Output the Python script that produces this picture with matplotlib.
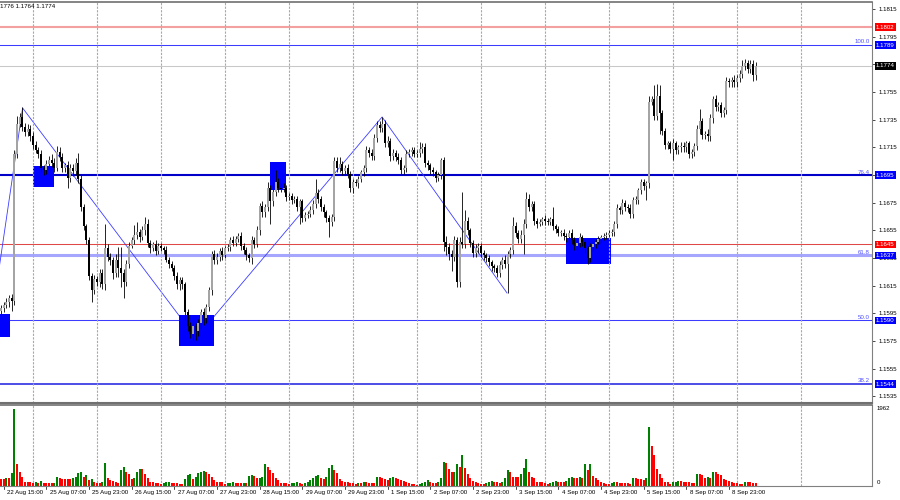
import matplotlib
matplotlib.use('Agg')
import matplotlib.pyplot as plt
import matplotlib.transforms as mtransforms
from matplotlib.patches import Rectangle
import numpy as np

plt.rcParams['font.family'] = ['Liberation Sans', 'DejaVu Sans']

# ---- EURUSD H1, 22 Aug 13:00 .. 9 Sep 09:00 (server time) ----
first_open = 1.1597
close = [
    1.1599, 1.1601, 1.1603, 1.1606, 1.1604, 1.1710, 1.1732, 1.1737, 1.1730, 1.1726,
    1.1728, 1.1723, 1.1717, 1.1713, 1.1710, 1.1700, 1.1699, 1.1703, 1.1706, 1.1704,
    1.1700, 1.1712, 1.1708, 1.1700, 1.1702, 1.1693, 1.1700, 1.1698, 1.1704, 1.1692,
    1.1672, 1.1658, 1.1648, 1.1622, 1.1612, 1.1620, 1.1618, 1.1624, 1.1616, 1.1642,
    1.1636, 1.1634, 1.1624, 1.1634, 1.1628, 1.1624, 1.1618, 1.1631, 1.1644, 1.1648,
    1.1652, 1.1654, 1.1650, 1.1655, 1.1660, 1.1646, 1.1642, 1.1645, 1.1640, 1.1644,
    1.1642, 1.1641, 1.1634, 1.1631, 1.1628, 1.1622, 1.1616, 1.1619, 1.1616, 1.1596,
    1.1586, 1.1580, 1.1586, 1.1582, 1.1588, 1.1596, 1.1592, 1.1600, 1.1612, 1.1638,
    1.1634, 1.1636, 1.1640, 1.1637, 1.1642, 1.1643, 1.1648, 1.1646, 1.1649, 1.1651,
    1.1644, 1.1641, 1.1637, 1.1635, 1.1648, 1.1645, 1.1655, 1.1673, 1.1668, 1.1672,
    1.1686, 1.1676, 1.1683, 1.1690, 1.1686, 1.1685, 1.1686, 1.1679, 1.1680, 1.1677,
    1.1678, 1.1672, 1.1676, 1.1664, 1.1666, 1.1667, 1.1670, 1.1674, 1.1682, 1.1678,
    1.1672, 1.1668, 1.1664, 1.1661, 1.1665, 1.1705, 1.1700, 1.1703, 1.1698, 1.1700,
    1.1696, 1.1686, 1.1690, 1.1689, 1.1692, 1.1697, 1.1700, 1.1713, 1.1711, 1.1709,
    1.1722, 1.1731, 1.1729, 1.1732, 1.1718, 1.1720, 1.1709, 1.1711, 1.1708, 1.1706,
    1.1699, 1.1700, 1.1710, 1.1712, 1.1713, 1.1710, 1.1711, 1.1714, 1.1715, 1.1704,
    1.1702, 1.1699, 1.1697, 1.1693, 1.1695, 1.1706, 1.1647, 1.1643, 1.1638, 1.1636,
    1.1648, 1.1618, 1.1647, 1.1645, 1.1662, 1.1655, 1.1646, 1.1639, 1.1642, 1.1644,
    1.1639, 1.1637, 1.1635, 1.1632, 1.1629, 1.1628, 1.1624, 1.1630, 1.1634, 1.1631,
    1.1638, 1.1641, 1.1658, 1.1653, 1.1649, 1.1652, 1.1660, 1.1678, 1.1672, 1.1674,
    1.1662, 1.1660, 1.1661, 1.1663, 1.1662, 1.1661, 1.1663, 1.1658, 1.1656, 1.1653,
    1.1653, 1.1651, 1.1650, 1.1653, 1.1648, 1.1644, 1.1646, 1.1650, 1.1647, 1.1642,
    1.1635, 1.1643, 1.1645, 1.1647, 1.1649, 1.1650, 1.1651, 1.1652, 1.1653, 1.1654,
    1.1660, 1.1671, 1.1670, 1.1675, 1.1672, 1.1671, 1.1667, 1.1677, 1.1677, 1.1684,
    1.1690, 1.1687, 1.1689, 1.1748, 1.1750, 1.1738, 1.1752, 1.1740, 1.1727, 1.1717,
    1.1718, 1.1714, 1.1718, 1.1713, 1.1715, 1.1716, 1.1715, 1.1718, 1.1710, 1.1712,
    1.1716, 1.1728, 1.1734, 1.1724, 1.1725, 1.1723, 1.1736, 1.1750, 1.1744, 1.1746,
    1.1740, 1.1742, 1.1763, 1.1762, 1.1764, 1.1762, 1.1765, 1.1768, 1.1774, 1.1776,
    1.1772, 1.1775, 1.1767, 1.1774,
]
# wick lengths beyond the body, in pips
wick_up = [
    2, 2, 3, 2, 3, 3, 6, 3, 7, 3,  4, 3, 3, 3, 2, 3, 2, 3, 3, 4,
    3, 4, 3, 3, 2, 3, 3, 3, 3, 7,  3, 2, 2, 2, 2, 3, 2, 3, 3, 18,
    3, 3, 2, 4, 9, 15, 3, 3, 3, 2,  7, 7, 2, 3, 5, 3, 2, 2, 3, 2,
    2, 2, 3, 2, 2, 2, 3, 2, 2, 2,  2, 3, 2, 2, 3, 2, 3, 2, 2, 2,
    3, 3, 2, 3, 2, 2, 2, 3, 2, 2,  3, 2, 2, 2, 3, 2, 3, 2, 3, 2,
    4, 2, 7, 9, 3, 3, 3, 2, 2, 2,  2, 2, 2, 2, 2, 2, 3, 3, 10, 3,
    2, 2, 2, 2, 2, 3, 3, 5, 2, 2,  3, 2, 2, 2, 2, 2, 2, 3, 2, 3,
    3, 3, 3, 5, 3, 3, 2, 3, 2, 3,  2, 2, 3, 2, 2, 2, 2, 5, 3, 3,
    2, 2, 2, 2, 2, 1, 2, 4, 3, 3,  3, 2, 3, 36, 8, 3, 2, 2, 3, 2,
    2, 2, 2, 2, 2, 2, 2, 3, 2, 3,  2, 2, 7, 3, 2, 3, 3, 5, 3, 2,
    2, 2, 2, 2, 3, 2, 2, 9, 2, 2,  2, 3, 2, 2, 3, 2, 2, 3, 2, 2,
    2, 3, 2, 2, 2, 2, 2, 2, 2, 2,  2, 3, 2, 3, 2, 2, 3, 2, 3, 2,
    2, 2, 2, 4, 2, 10, 9, 8, 2, 2,  2, 2, 3, 2, 2, 3, 3, 2, 2, 2,
    2, 3, 9, 2, 2, 3, 3, 2, 3, 2,  2, 2, 3, 2, 2, 3, 2, 3, 4, 3,
    2, 3, 3, 3,
]
wick_dn = [
    3, 3, 2, 3, 7, 3, 3, 2, 3, 3,  3, 3, 3, 2, 3, 3, 4, 3, 3, 3,
    3, 2, 3, 3, 3, 7, 3, 4, 3, 3,  3, 3, 3, 3, 9, 3, 3, 4, 3, 4,
    3, 4, 4, 3, 7, 10, 12, 3, 3, 2,  3, 3, 3, 2, 3, 3, 3, 2, 3, 2,
    2, 3, 2, 3, 2, 3, 3, 4, 3, 6,  4, 3, 4, 6, 3, 4, 5, 4, 3, 4,
    3, 3, 3, 3, 2, 2, 3, 2, 2, 2,  3, 3, 3, 3, 4, 3, 2, 3, 3, 3,
    3, 16, 3, 3, 3, 2, 2, 3, 2, 3,  2, 3, 12, 3, 2, 2, 2, 3, 3, 3,
    3, 3, 3, 11, 3, 3, 3, 3, 3, 3,  3, 3, 4, 2, 3, 2, 3, 3, 3, 3,
    3, 3, 3, 3, 3, 3, 4, 3, 3, 3,  3, 3, 3, 2, 3, 2, 2, 3, 3, 3,
    3, 3, 3, 3, 2, 3, 7, 6, 4, 10,  3, 4, 4, 3, 3, 3, 3, 3, 3, 3,
    3, 3, 3, 3, 3, 3, 3, 3, 3, 3,  21, 3, 3, 3, 3, 3, 14, 3, 3, 3,
    3, 3, 2, 2, 3, 2, 2, 3, 3, 2,  2, 3, 3, 3, 3, 3, 3, 3, 3, 3,
    4, 3, 3, 3, 2, 3, 2, 2, 2, 2,  3, 3, 3, 3, 3, 3, 3, 3, 3, 3,
    3, 3, 10, 3, 2, 3, 3, 15, 3, 3,  3, 3, 8, 3, 3, 3, 3, 3, 3, 3,
    3, 3, 3, 3, 3, 3, 3, 3, 3, 3,  3, 3, 3, 3, 3, 3, 3, 3, 3, 3,
    3, 3, 4, 3,
]
volume = [
    170, 170, 196, 196, 340, 1962, 553, 357, 230, 111,
    111, 111, 85, 102, 85, 128, 77, 77, 77, 68,
    85, 230, 213, 187, 170, 170, 170, 213, 230, 340,
    357, 230, 281, 145, 187, 111, 77, 77, 102, 578,
    196, 145, 128, 111, 85, 408, 485, 357, 298, 170,
    213, 366, 425, 425, 315, 213, 111, 111, 85, 85,
    60, 77, 94, 111, 77, 77, 77, 60, 60, 187,
    281, 315, 187, 230, 340, 357, 383, 366, 315, 230,
    162, 111, 111, 111, 60, 68, 77, 102, 85, 77,
    68, 77, 77, 247, 281, 264, 196, 213, 230, 553,
    485, 408, 340, 213, 145, 85, 85, 77, 60, 77,
    85, 111, 77, 60, 77, 111, 145, 196, 264, 281,
    213, 179, 230, 468, 536, 400, 332, 170, 128, 111,
    111, 85, 85, 60, 77, 77, 111, 111, 77, 77,
    77, 221, 221, 213, 179, 162, 213, 230, 213, 170,
    153, 128, 111, 68, 60, 43, 26, 60, 77, 111,
    145, 111, 77, 77, 111, 213, 621, 587, 442, 357,
    366, 553, 493, 782, 450, 298, 196, 128, 102, 77,
    60, 60, 77, 102, 119, 102, 102, 77, 111, 213,
    408, 357, 230, 230, 230, 315, 468, 680, 366, 230,
    196, 111, 94, 94, 77, 60, 77, 102, 119, 94,
    94, 94, 128, 196, 238, 213, 213, 230, 213, 553,
    408, 570, 247, 196, 145, 111, 77, 60, 60, 77,
    94, 94, 77, 77, 77, 77, 60, 213, 213, 179,
    179, 153, 196, 1505, 1020, 782, 442, 298, 196, 94,
    94, 60, 94, 102, 119, 119, 111, 94, 94, 77,
    77, 315, 315, 281, 213, 230, 196, 349, 349, 315,
    281, 179, 162, 128, 111, 85, 77, 60, 60, 111,
    94, 94, 77, 77,
]

time_labels = ['21 Aug 23:00', '22 Aug 15:00', '25 Aug 07:00', '25 Aug 23:00', '26 Aug 15:00',
               '27 Aug 07:00', '27 Aug 23:00', '28 Aug 15:00', '29 Aug 07:00', '29 Aug 23:00',
               '1 Sep 15:00', '2 Sep 07:00', '2 Sep 23:00', '3 Sep 15:00', '4 Sep 07:00',
               '4 Sep 23:00', '5 Sep 15:00', '8 Sep 07:00', '8 Sep 23:00']
label_bars = [-15, 1, 17, 33, 49, 65, 81, 97, 113, 129, 145, 161, 177, 193, 209, 225, 241, 257, 273]

level_prices = [1.1802, 1.1789, 1.1774, 1.1695, 1.1645, 1.1637, 1.1590, 1.1544]
level_colors = ['#f4a0a0', '#3c3cff', '#c8c8c8', '#0000c8', '#e04848', '#a6a6ff', '#3c3cff', '#1c1ce0']
level_widths = [1.5, 0.75, 0.75, 1.5, 0.75, 2.2, 0.75, 1.1]
tag_colors = ['#ff0000', '#0000ff', '#000000', '#0000ff', '#ff0000', '#0000ff', '#0000ff', '#0000ff']
fib_names = ['', '100.0', '', '76.4', '', '61.8', '50.0', '38.2']

# blue zones: bar from, bar to, price low, price high
zone_x0 = [-0.4, 12.0, 66.8, 100.9, 211.9]
zone_x1 = [3.4, 19.9, 79.9, 106.9, 228.8]
zone_lo = [1.15780, 1.16864, 1.15715, 1.16842, 1.16307]
zone_hi = [1.15946, 1.17016, 1.15939, 1.17044, 1.16495]

zigzag_bars = [-3.0, 8.1, 73.1, 142.9, 189.75]
zigzag_prices = [1.15975, 1.17435, 1.15773, 1.17370, 1.16098]

price_ticks = [1.1535, 1.1555, 1.1575, 1.1595, 1.1615, 1.1635, 1.1655, 1.1675,
               1.1695, 1.1715, 1.1735, 1.1755, 1.1775, 1.1795, 1.1815]
# these two sit under the price tags, so their text is not shown
hidden_ticks = [1.1695, 1.1775]
grid_bars = [12, 36, 60, 84, 108, 132, 156, 180, 204, 228, 252, 276, 300]

FS = 4.4
W, H = 900, 500


def px_box(x0, y0, x1, y1):
    return [x0 / W, 1 - y1 / H, (x1 - x0) / W, (y1 - y0) / H]


c = np.array(close)
o = np.r_[first_open, c[:-1]]
hi = np.maximum(o, c) + np.array(wick_up) * 1e-4
lo = np.minimum(o, c) - np.array(wick_dn) * 1e-4
x = np.arange(len(c))
bull = c >= o

fig = plt.figure(figsize=(9, 5), dpi=100)
ax = fig.add_axes(px_box(0, 2, 872, 403))
axv = fig.add_axes(px_box(0, 405, 872, 486))

xlim = (-0.375, 326.6)

# price panel
for p, col, lw in zip(level_prices, level_colors, level_widths):
    ax.axhline(p, color=col, lw=lw, zorder=1)
ax.plot(zigzag_bars, zigzag_prices, color='#3c3cff', lw=0.6, zorder=1.5)
for x0, x1, y0, y1 in zip(zone_x0, zone_x1, zone_lo, zone_hi):
    ax.add_patch(Rectangle((x0, y0), x1 - x0, y1 - y0, color='#0000ff', lw=0, zorder=2))
for b in grid_bars:
    ax.axvline(b, color='#a8a8a8', lw=0.8, ls=(0, (2, 1.2)), zorder=2.2)
    axv.axvline(b, color='#a8a8a8', lw=0.8, ls=(0, (2, 1.2)), zorder=0.5)

ax.vlines(x, lo, hi, color='#000000', lw=0.6, zorder=3)
body_bot = np.minimum(o, c)
body_h = np.maximum(np.abs(c - o), 0.00006)
ax.bar(x[bull], body_h[bull], bottom=body_bot[bull], width=0.75, color='#a4a4a4', lw=0, zorder=4)
ax.bar(x[~bull], body_h[~bull], bottom=body_bot[~bull], width=0.75, color='#000000', lw=0, zorder=4)

ax.set_xlim(*xlim)
ax.set_ylim(1.15303, 1.18201)
ax.set_xticks([])
ax.yaxis.tick_right()
ax.set_yticks(price_ticks)
ax.set_yticklabels(['' if t in hidden_ticks else '%.4f' % t for t in price_ticks])
ax.tick_params(axis='y', length=2.5, width=0.5, pad=2.5, labelsize=FS, colors='#000000')

trans = mtransforms.blended_transform_factory(ax.transAxes, ax.transData)
for p, col, name in zip(level_prices, tag_colors, fib_names):
    ax.text(1 + 4 / 872, p, '%.4f' % p, transform=trans, ha='left', va='center', fontsize=FS,
            color='white', clip_on=False, zorder=10,
            bbox=dict(boxstyle='square,pad=0.2', fc=col, ec='none'))
    if name:
        ax.text(870 / 872, p + 0.00004, name, transform=trans, ha='right', va='bottom',
                fontsize=FS, color='#5050ff', zorder=10)

ax.spines['left'].set_visible(False)
ax.spines['top'].set_color('#707070')
ax.spines['top'].set_linewidth(1.2)
ax.spines['bottom'].set_color('#707070')
ax.spines['bottom'].set_linewidth(1.5)
ax.spines['right'].set_color('#808080')
ax.spines['right'].set_linewidth(0.8)

# volume panel, green when volume rose against the previous bar
v = np.array(volume)
up_vol = np.r_[False, v[1:] > v[:-1]]
axv.bar(x[up_vol], v[up_vol], width=0.75, color='#008000', lw=0, zorder=2)
axv.bar(x[~up_vol], v[~up_vol], width=0.75, color='#ff0000', lw=0, zorder=2)
axv.set_xlim(*xlim)
axv.set_ylim(0, 2070)
axv.set_xticks([])
axv.set_yticks([])
axv.spines['left'].set_visible(False)
axv.spines['top'].set_color('#707070')
axv.spines['top'].set_linewidth(1.2)
axv.spines['bottom'].set_color('#808080')
axv.spines['bottom'].set_linewidth(0.8)
axv.spines['right'].set_color('#808080')
axv.spines['right'].set_linewidth(0.8)
axv.text(1 + 5 / 872, 77 / 81, '1962', transform=axv.transAxes, fontsize=FS, va='center')
axv.text(1 + 5 / 872, 4 / 81, '0', transform=axv.transAxes, fontsize=FS, va='center')

tv = mtransforms.blended_transform_factory(axv.transData, axv.transAxes)
for b, lab in zip(label_bars, time_labels):
    axv.plot([b, b], [0, -3 / 81], color='#000000', lw=0.5, transform=tv, clip_on=False)
    axv.text(b + 1.2, -6.5 / 81, lab, transform=tv, fontsize=FS, ha='left', va='center', clip_on=False)

fig.text(-5 / W, 1 - 6 / H, '1.1776 1.1764 1.1774', fontsize=FS, ha='left', va='center')

fig.savefig('out.png', dpi=100)
